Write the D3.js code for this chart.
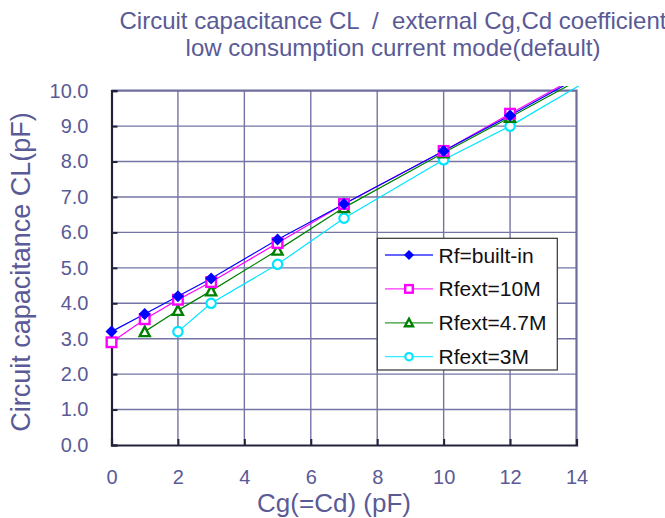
<!DOCTYPE html>
<html><head><meta charset="utf-8">
<script src="https://cdn.jsdelivr.net/npm/d3@7"></script>
<style>body{margin:0;background:#fff}svg{display:block;font-family:Arial,"Liberation Sans",sans-serif}</style>
</head><body><svg id="c" width="665" height="518"></svg>
<script>
const titleLines = ["Circuit capacitance CL  /  external Cg,Cd coefficient", "low consumption current mode(default)"];
const xTitle = "Cg(=Cd) (pF)";
const yTitle = "Circuit capacitance CL(pF)";
const xTicks = [0, 2, 4, 6, 8, 10, 12, 14];
const yTicks = [0, 1, 2, 3, 4, 5, 6, 7, 8, 9, 10];
const seriesNames = ["Rf=built-in", "Rfext=10M", "Rfext=4.7M", "Rfext=3M"];
const seriesColors = ["#0000ff", "#ff00ff", "#008000", "#00e5ff"];
const seriesMarkers = ["diamond", "square", "triangle", "circle"];
const cgBuiltIn = [0, 1, 2, 3, 5, 7, 10, 12];
const clBuiltIn = [3.2, 3.7, 4.2, 4.7, 5.8, 6.8, 8.3, 9.3];
const cg10M = [0, 1, 2, 3, 5, 7, 10, 12];
const cl10M = [2.9, 3.55, 4.1, 4.6, 5.7, 6.8, 8.3, 9.35];
const cg47M = [1, 2, 3, 5, 7, 10, 12];
const cl47M = [3.2, 3.8, 4.35, 5.5, 6.7, 8.25, 9.25];
const cg3M = [2, 3, 5, 7, 10, 12];
const cl3M = [3.2, 4.0, 5.1, 6.4, 8.05, 9.0];
// line continuation beyond the plotted points (clipped)
const tailX = [15, 15, 15, 15];
const tailY = [10.86, 10.9, 10.78, 10.65];

const cgs = [cgBuiltIn, cg10M, cg47M, cg3M];
const cls = [clBuiltIn, cl10M, cl47M, cl3M];
const series = seriesNames.map((n, i) => ({
  name: n, color: seriesColors[i], marker: seriesMarkers[i],
  pts: cgs[i].map((x, j) => ({x, y: cls[i][j]})),
  tail: {x: tailX[i], y: tailY[i]}
}));

const txt = "#5a5a96";
const svg = d3.select("#c");
const L = 111.5, R = 576.5, T = 90.7, B = 445;
const x = d3.scaleLinear().domain([0, 14]).range([L, R]);
const y = d3.scaleLinear().domain([0, 10]).range([B, T]);

// titles
svg.append("text").attr("x", 393).attr("y", 28.5).attr("text-anchor", "middle").style("white-space", "pre")
  .attr("font-size", 24).attr("fill", txt).text(titleLines[0]);
svg.append("text").attr("x", 393).attr("y", 55.5).attr("text-anchor", "middle").style("white-space", "pre")
  .attr("font-size", 24).attr("fill", txt).text(titleLines[1]);

// grid
const g = svg.append("g");
g.selectAll(".gx").data(xTicks.slice(1, -1)).join("line")
  .attr("x1", d => x(d)).attr("x2", d => x(d)).attr("y1", T).attr("y2", B)
  .attr("stroke", "#7474a6").attr("stroke-width", 1.4);
g.selectAll(".gy").data(yTicks.slice(1, -1)).join("line")
  .attr("x1", L).attr("x2", R).attr("y1", d => y(d)).attr("y2", d => y(d))
  .attr("stroke", "#7474a6").attr("stroke-width", 1.4);
// top and right border
g.append("path").attr("d", `M${L},${T}H${R}V${B}`).attr("fill", "none")
  .attr("stroke", "#6e6e9e").attr("stroke-width", 2.2);

// axes
const ya = svg.append("g").attr("transform", `translate(${L},0)`)
  .call(d3.axisLeft(y).tickValues(yTicks).tickSize(-6).tickPadding(23).tickFormat(d3.format(".1f")));
const xa = svg.append("g").attr("transform", `translate(0,${B})`)
  .call(d3.axisBottom(x).tickValues(xTicks).tickSize(-6).tickPadding(25).tickFormat(d3.format("d")));
[ya, xa].forEach(a => {
  a.select(".domain").attr("stroke", "#22223a").attr("stroke-width", 2.2);
  a.selectAll(".tick line").attr("stroke", "#22223a").attr("stroke-width", 2);
  a.selectAll(".tick text").attr("fill", txt).attr("font-size", 20).attr("font-family", "Arial, 'Liberation Sans', sans-serif");
});
xa.selectAll(".tick text").attr("dy", "0.71em");

svg.append("text").attr("x", 334).attr("y", 511.5).attr("text-anchor", "middle")
  .attr("font-size", 26).attr("fill", txt).text(xTitle);
svg.append("text").attr("transform", "translate(30,272) rotate(-90)").attr("text-anchor", "middle")
  .attr("font-size", 27).attr("fill", txt).text(yTitle);

// clip
svg.append("clipPath").attr("id", "clip").append("rect")
  .attr("x", L - 10).attr("y", T - 4.7).attr("width", R - L + 15).attr("height", B - T + 15);

const line = d3.line().x(d => x(d.x)).y(d => y(d.y));
const plot = svg.append("g");

function marker(sel, type, color, s) {
  if (type === "diamond") {
    sel.append("path").attr("d", `M0,${-s}L${s},0L0,${s}L${-s},0Z`).attr("fill", color);
  } else if (type === "square") {
    sel.append("rect").attr("x", -s + 1.2).attr("y", -s + 1.2).attr("width", 2 * s - 2.4).attr("height", 2 * s - 2.4)
      .attr("fill", "#fff").attr("stroke", color).attr("stroke-width", 2.4);
  } else if (type === "triangle") {
    sel.append("path").attr("d", `M0,${-s + 1}L${s - 1},${s - 1.5}L${-s + 1},${s - 1.5}Z`)
      .attr("fill", "#fff").attr("stroke", color).attr("stroke-width", 2.4);
  } else {
    sel.append("circle").attr("r", s - 1.3).attr("fill", "#fff").attr("stroke", color).attr("stroke-width", 2.2);
  }
}

// draw series in reverse order so built-in is on top
series.slice().reverse().forEach(s => {
  plot.append("path").datum(s.pts.concat([s.tail])).attr("d", line).attr("clip-path", "url(#clip)")
    .attr("fill", "none").attr("stroke", s.color).attr("stroke-width", 1.2);
});
series.slice().reverse().forEach(s => {
  s.pts.forEach(p => {
    const m = plot.append("g").attr("transform", `translate(${x(p.x)},${y(p.y)})`);
    marker(m, s.marker, s.color, 6);
  });
});

// legend
const lg = svg.append("g");
lg.append("rect").attr("x", 377.3).attr("y", 238.3).attr("width", 180).attr("height", 131.7)
  .attr("fill", "#fff").attr("stroke", "#333").attr("stroke-width", 1.2);
series.forEach((s, i) => {
  const cy = 255 + i * 33.9;
  lg.append("line").attr("x1", 385).attr("x2", 433).attr("y1", cy).attr("y2", cy)
    .attr("stroke", s.color).attr("stroke-width", 1.3).attr("opacity", 0.8);
  const m = lg.append("g").attr("transform", `translate(409,${cy})`);
  marker(m, s.marker, s.color, 5);
  lg.append("text").attr("x", 438.5).attr("y", cy + 7.5).attr("font-size", 21).attr("fill", "#111").text(s.name);
});
</script></body></html>
